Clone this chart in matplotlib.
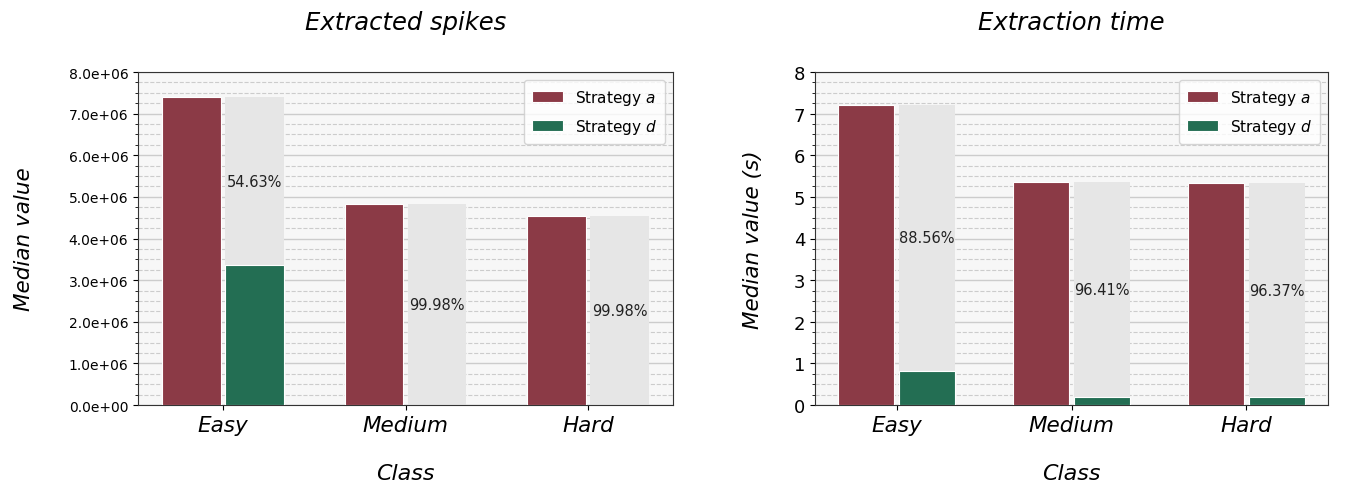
import numpy as np
import matplotlib
matplotlib.use('Agg')
import matplotlib.pyplot as plt
from matplotlib.ticker import AutoMinorLocator, FormatStrFormatter

# ข้อมูล
classes = ['Easy', 'Medium', 'Hard']
spikes_a = [7.39e6, 4.84e6, 4.53e6]
spikes_d = [3.353e6, 968, 906]
spikes_pct = ['54.63%', '99.98%', '99.98%']
time_a = [7.21, 5.36, 5.33]
time_d = [0.825, 0.192, 0.194]
time_pct = ['88.56%', '96.41%', '96.37%']

col_a = '#8b3a46'
col_d = '#236e53'

W, H = 1371, 489
fig = plt.figure(figsize=(13.71, 4.89), dpi=100)
ax1 = fig.add_axes([138 / W, 1 - 406 / H, (673 - 138) / W, (406 - 73) / H])
ax2 = fig.add_axes([815 / W, 1 - 406 / H, (1328 - 815) / W, (406 - 73) / H])

panels = [
    (ax1, spikes_a, spikes_d, spikes_pct, 'Extracted spikes', 'Median value', 8e6, 25),
    (ax2, time_a, time_d, time_pct, 'Extraction time', 'Median value (s)', 8, 22),
]

x = np.arange(len(classes))
w = 0.32
off = w / 2 + 0.013
for ax, va, vd, pct, title, ylab, ymax, lp in panels:
    ax.set_facecolor('#f7f7f7')
    ax.bar(x - off, va, w, color=col_a, edgecolor='white', linewidth=0.8,
           label='Strategy $a$', zorder=3)
    ax.bar(x + off, va, w, color='#e6e6e6', edgecolor='none', zorder=2)
    ax.bar(x + off, vd, w, color=col_d, edgecolor='white', linewidth=0.8,
           label='Strategy $d$', zorder=3)
    for i in range(len(classes)):
        ax.text(x[i] + off, (va[i] + vd[i]) / 2, pct[i], ha='center',
                va='center', fontsize=10.5, color='#222222', zorder=4)
    ax.set_ylim(0, ymax)
    ax.yaxis.set_minor_locator(AutoMinorLocator(4))
    ax.grid(axis='y', which='major', color='#cccccc', linewidth=1, zorder=0)
    ax.grid(axis='y', which='minor', color='#cccccc', linestyle='--', linewidth=0.8, zorder=0)
    ax.set_axisbelow(True)
    ax.set_xticks(x)
    ax.set_xticklabels(classes, fontsize=15.5, style='italic')
    ax.set_title(title, fontsize=17.5, style='italic', pad=31)
    ax.set_xlabel('Class', fontsize=16, style='italic', labelpad=20)
    ax.set_ylabel(ylab, fontsize=15.5, style='italic', labelpad=lp)
    ax.legend(loc='upper right', fontsize=11, handlelength=2.0, borderpad=0.55,
              labelspacing=0.65)
    for s in ax.spines.values():
        s.set_color('#333333')

ax1.yaxis.set_major_formatter(FormatStrFormatter('%.1e'))
ax1.tick_params(axis='y', labelsize=10)
ax2.tick_params(axis='y', labelsize=13)

plt.savefig('out.png', dpi=100)
